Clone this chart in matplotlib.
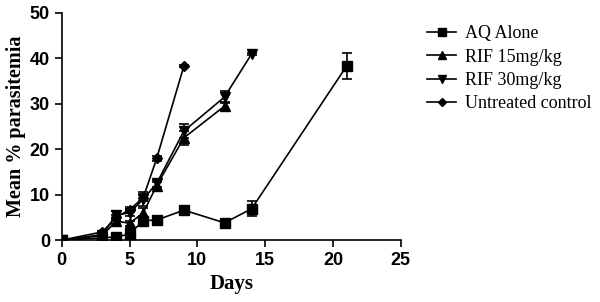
import matplotlib.pyplot as plt

# days and mean % parasitemia for each group
aq_days = [0, 3, 4, 5, 6, 7, 9, 12, 14, 21]
aq_vals = [0, 0.5, 0.7, 1.3, 4.3, 4.4, 6.6, 3.8, 6.9, 38.3]
aq_err = [0, 0.2, 0.2, 0.3, 1.0, 0.3, 0.4, 0.3, 1.7, 2.9]

rif15_days = [0, 3, 4, 5, 6, 7, 9, 12]
rif15_vals = [0, 1.0, 4.2, 3.7, 6.0, 12.0, 22.5, 29.5]
rif15_err = [0, 0.3, 0.6, 0.6, 1.0, 0.8, 1.5, 1.0]

rif30_days = [0, 3, 4, 5, 6, 7, 9, 12, 14]
rif30_vals = [0, 1.2, 5.5, 6.0, 9.0, 12.5, 24.0, 31.5, 41.0]
rif30_err = [0, 0.3, 1.0, 0.8, 1.5, 0.8, 1.5, 1.3, 0.3]

ctrl_days = [0, 3, 4, 5, 6, 7, 9]
ctrl_vals = [0, 1.8, 5.0, 6.7, 9.3, 18.0, 38.3]
ctrl_err = [0, 0.3, 0.5, 0.5, 0.8, 0.5, 0.3]

fig = plt.figure(figsize=(6, 3.02), dpi=100)
ax = fig.add_axes([0.103, 0.205, 0.565, 0.752])

kw = dict(color='black', lw=1.2, capsize=3.5, elinewidth=1.2, capthick=1.2)
c1 = ax.errorbar(aq_days, aq_vals, yerr=aq_err, marker='s', ms=7, **kw)
c2 = ax.errorbar(rif15_days, rif15_vals, yerr=rif15_err, marker='^', ms=7, **kw)
c3 = ax.errorbar(rif30_days, rif30_vals, yerr=rif30_err, marker='v', ms=7, **kw)
c4 = ax.errorbar(ctrl_days, ctrl_vals, yerr=ctrl_err, marker='D', ms=5.5, **kw)

ax.set_xlim(0, 25)
ax.set_ylim(0, 50)
ax.set_xticks([0, 5, 10, 15, 20, 25])
ax.set_yticks([0, 10, 20, 30, 40, 50])
for s in ['top', 'right']:
    ax.spines[s].set_visible(False)
ax.spines['left'].set_linewidth(1.2)
ax.spines['bottom'].set_linewidth(1.2)
ax.tick_params(direction='out', length=5, width=1.2)
for lab in ax.get_xticklabels() + ax.get_yticklabels():
    lab.set_family('Liberation Sans')
    lab.set_fontweight('bold')
    lab.set_fontsize(13)

ax.set_xlabel('Days', family='Liberation Serif', fontweight='bold', fontsize=15, labelpad=4)
ax.set_ylabel('Mean % parasitemia', family='Liberation Serif', fontweight='bold', fontsize=14.5, labelpad=3)

labels = ['AQ Alone', 'RIF 15mg/kg', 'RIF 30mg/kg', 'Untreated control']
handles = [c1[0], c2[0], c3[0], c4[0]]
fig.legend(handles, labels, loc='upper left', bbox_to_anchor=(0.685, 0.97), frameon=False,
           prop={'family': 'Liberation Serif', 'size': 13},
           handlelength=1.6, handletextpad=0.5, markerscale=0.75, labelspacing=0.35)

fig.savefig('out.png', dpi=100)
